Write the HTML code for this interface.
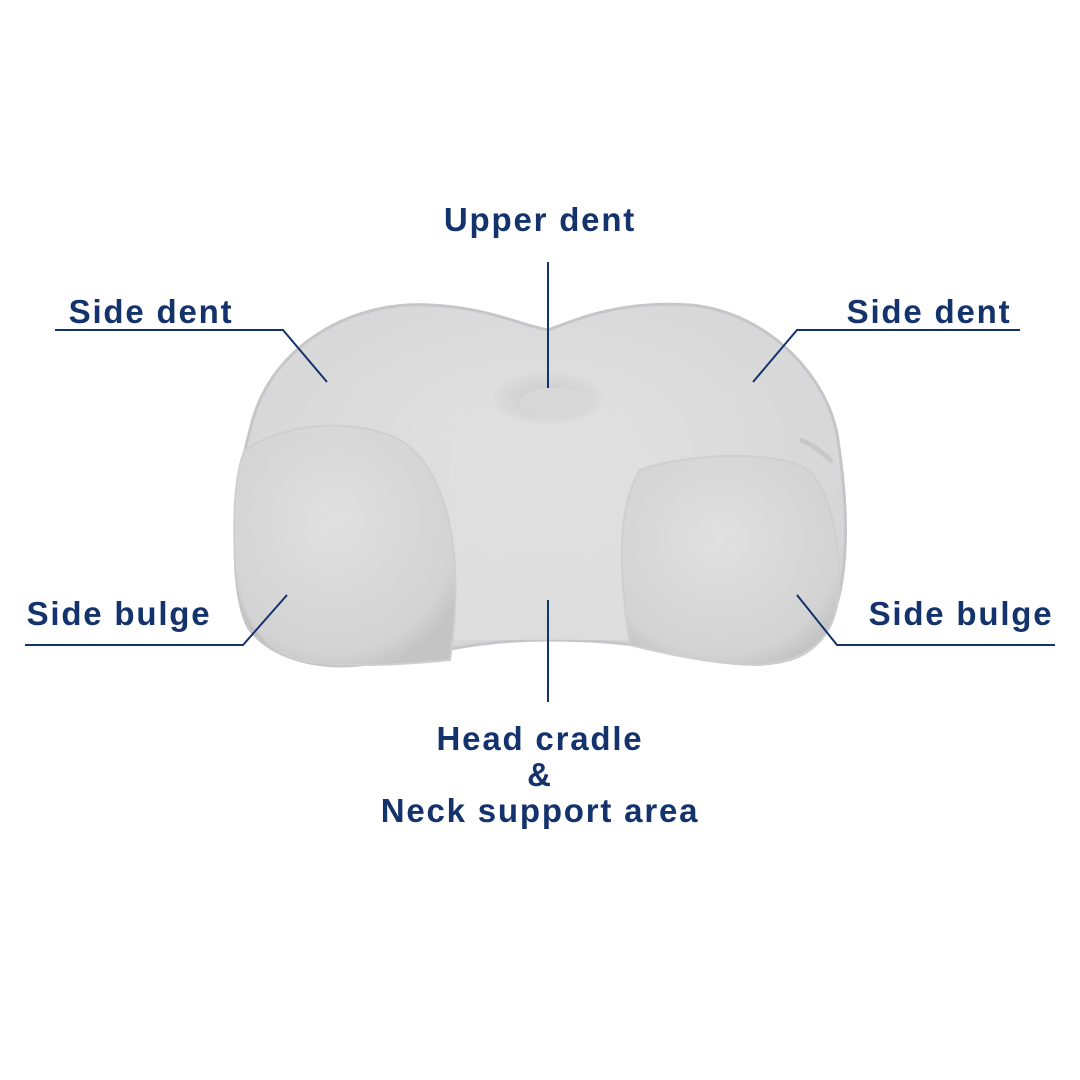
<!DOCTYPE html>
<html><head><meta charset="utf-8"><style>
body{margin:0;width:1080px;height:1080px;background:#fff;overflow:hidden}
svg{display:block}
text{font-family:"Liberation Sans",sans-serif;font-weight:bold;fill:#14326c;font-size:33px;letter-spacing:1.8px}
</style></head><body>
<svg width="1080" height="1080" viewBox="0 0 1080 1080">
<defs>
<radialGradient id="g1" cx="0.5" cy="0.4" r="0.7"><stop offset="0" stop-color="#e2e2e2"/><stop offset="0.8" stop-color="#d6d6d6"/><stop offset="1" stop-color="#bdbdbd"/></radialGradient>
<radialGradient id="g2" cx="0.45" cy="0.4" r="0.65"><stop offset="0" stop-color="#e0e0e0"/><stop offset="0.85" stop-color="#d3d3d3"/><stop offset="1" stop-color="#c4c4c4"/></radialGradient>
<radialGradient id="g3" cx="0.5" cy="0.5" r="0.5"><stop offset="0" stop-color="#c9c9c9"/><stop offset="1" stop-color="#dcdcdc"/></radialGradient>
</defs>
<path d="M250,430 C270,340 360,300 430,305 C490,308 520,325 548,330 C575,320 620,300 690,305 C770,312 830,380 838,440 C850,520 850,600 820,640 C800,665 760,668 720,660 C660,648 620,640 548,640 C470,640 430,655 360,665 C310,670 270,655 250,630 C230,600 230,500 250,430 Z" fill="url(#g1)" stroke="#c4c6c9" stroke-width="3"/>
<ellipse cx="548" cy="398" rx="55" ry="26" fill="url(#g3)"/>
<ellipse cx="555" cy="402" rx="35" ry="14" fill="#d8d8d8"/>
<path d="M450,440 C500,420 600,420 650,450 L640,640 L450,640 Z" fill="#e0e0e0" opacity="0.7"/>
<path d="M245,450 C280,425 350,415 400,440 C450,470 465,560 450,660 C400,665 340,668 300,660 C265,650 240,620 236,570 C232,520 235,470 245,450 Z" fill="url(#g2)" stroke="#cfcfcf" stroke-width="2"/>
<path d="M640,470 C680,455 760,450 800,465 C830,480 842,540 838,600 C832,640 810,660 760,665 C720,665 670,655 630,645 C620,580 615,510 640,470 Z" fill="url(#g2)" stroke="#cfcfcf" stroke-width="2"/>
<path d="M800,440 C815,445 825,455 832,462" stroke="#c8c8c8" stroke-width="5" fill="none"/>
<g stroke="#14326c" stroke-width="2" fill="none">
<line x1="548" y1="262" x2="548" y2="388"/>
<polyline points="55,330 283,330 327,382"/>
<polyline points="1020,330 797,330 753,382"/>
<polyline points="25,645 243,645 287,595"/>
<polyline points="1055,645 837,645 797,595"/>
<line x1="548" y1="600" x2="548" y2="702"/>
</g>
<text x="540" y="231" text-anchor="middle">Upper dent</text>
<text x="151" y="323" text-anchor="middle">Side dent</text>
<text x="929" y="323" text-anchor="middle">Side dent</text>
<text x="119" y="625" text-anchor="middle">Side bulge</text>
<text x="961" y="625" text-anchor="middle">Side bulge</text>
<text x="540" y="750" text-anchor="middle">Head cradle</text>
<text x="540" y="786" text-anchor="middle">&amp;</text>
<text x="540" y="822" text-anchor="middle">Neck support area</text>
</svg>
</body></html>
